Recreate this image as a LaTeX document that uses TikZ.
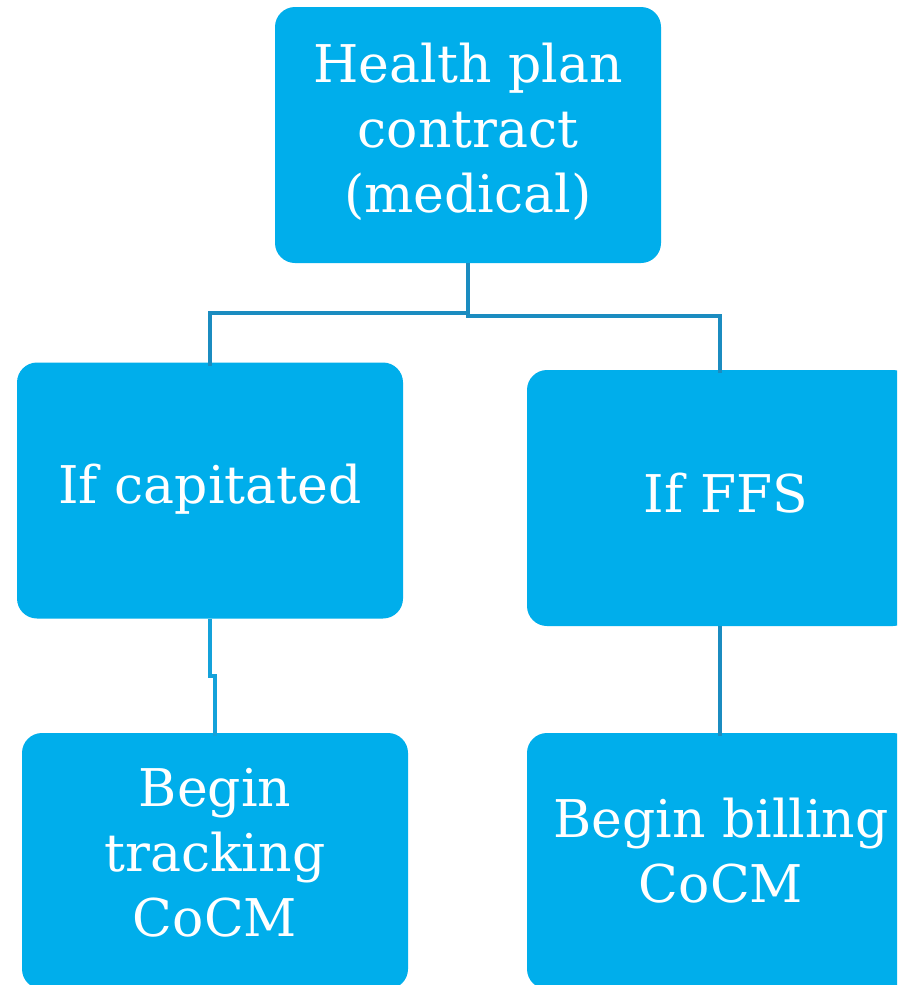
\documentclass[tikz,border=0pt]{standalone}
\usepackage{fontspec}
\setmainfont{DejaVu Serif}
\definecolor{boxblue}{HTML}{00AEEB}
\definecolor{linedark}{HTML}{1B8CC0}
\definecolor{linelight}{HTML}{14A2DA}
\begin{document}
\begin{tikzpicture}[x=1pt,y=-1pt,
  box/.style={rectangle, rounded corners=20pt, fill=boxblue, draw=none,
    minimum width=386pt, minimum height=256pt, inner sep=0pt, outer sep=0pt},
  label/.style={text=white, align=center, inner sep=0pt,
    font=\fontsize{52}{65}\selectfont},
  conn/.style={draw=linedark, line width=3.5pt},
  connl/.style={draw=linelight, line width=3.5pt}]
\clip (0,0) rectangle (897,985);
\fill[white] (0,0) rectangle (897,985);
\node[box] (top) at (468,135) {};
\node[box] (lm) at (210,490.5) {};
\node[box] (rm) at (720,498) {};
\node[box] (bl) at (215,861) {};
\node[box] (br) at (720,861) {};
\node[label] (ttop) at (468,132) {Health plan\\contract\\(medical)};
\node[label] (tlm) at (210,489) {If capitated};
\node[label] (trm) at (726,493) {If FFS};
\node[label] (tbl) at (215,853) {Begin\\tracking\\CoCM};
\node[label] (tbr) at (721,851) {Begin billing\\CoCM};
\coordinate (jL) at (210,313);
\coordinate (jR) at (720,316);
\coordinate (jB) at (215,676);
\draw[conn] (top.south) |- (jL) -- ([yshift=-3pt]lm.north);
\draw[conn] (top.south) |- (jR) -- ([yshift=-3pt]rm.north);
\draw[connl] (lm.south) |- (jB) -- ([yshift=-3pt]bl.north);
\draw[conn] (rm.south) -- ([yshift=-3pt]br.north);
\end{tikzpicture}
\end{document}
